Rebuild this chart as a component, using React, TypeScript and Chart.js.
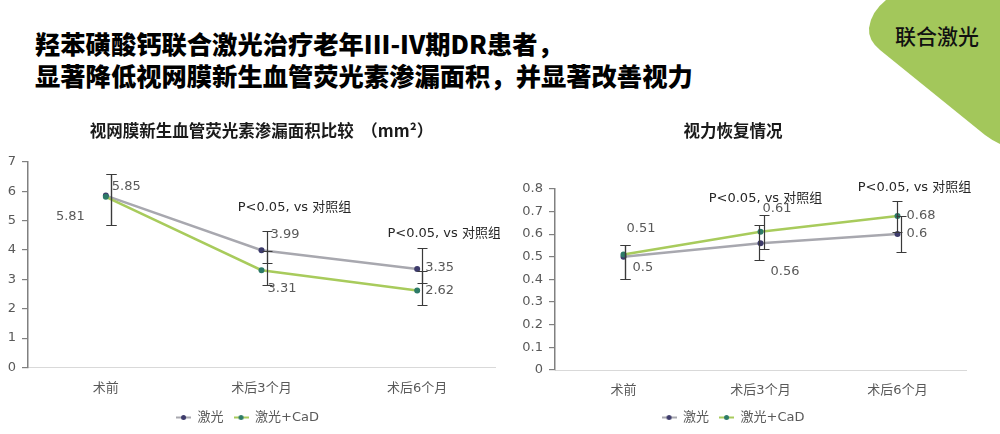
import React, { useEffect, useRef } from 'react';
import { Chart, registerables } from 'chart.js';

Chart.register(...registerables);

// ---------- data ----------
const categories = ['术前', '术后3个月', '术后6个月'];
const seriesNames = ['激光', '激光+CaD'];

// chart 1: leakage area (mm²)
const laserArea = [5.85, 3.99, 3.35];
const cadArea = [5.81, 3.31, 2.62];
const laserAreaLow = [4.86, 3.54, 2.88];
const laserAreaHigh = [6.6, 4.66, 4.07];
const cadAreaLow = [4.86, 2.8, 2.12];
const cadAreaHigh = [6.6, 3.96, 3.3];
const areaAxis = [0, 7, 1]; // min, max, step

// chart 2: visual acuity
const laserVA = [0.5, 0.56, 0.6];
const cadVA = [0.51, 0.61, 0.68];
const laserVALow = [0.4, 0.484, 0.52];
const laserVAHigh = [0.553, 0.638, 0.68];
const cadVALow = [0.4, 0.534, 0.61];
const cadVAHigh = [0.553, 0.686, 0.748];
const vaAxis = [0, 0.8, 0.1];

const pNoteText = 'P<0.05, vs 对照组';
const pNoteIndices = [1, 2];

const titleLine1 = '羟苯磺酸钙联合激光治疗老年III-IV期DR患者，';
const titleLine2 = '显著降低视网膜新生血管荧光素渗漏面积，并显著改善视力';
const badgeText = '联合激光';
const chart1Title = '视网膜新生血管荧光素渗漏面积比较  （mm²）';
const chart2Title = '视力恢复情况';

// ---------- styles ----------
const GRAY_LINE = '#a8a8af';
const GRAY_PT = '#3d3b6b';
const GREEN_LINE = '#a8cb5c';
const GREEN_PT = '#2d7a68';
const TEXT_GRAY = '#595959';
const FONT = "'DejaVu Sans', 'Noto Sans CJK SC', sans-serif";
const CJK = "'Noto Sans CJK SC', sans-serif";

function legendSwatch(line: string, dot: string) {
  const c = document.createElement('canvas');
  c.width = 15;
  c.height = 7;
  const g = c.getContext('2d')!;
  g.strokeStyle = line;
  g.lineWidth = 2;
  g.beginPath();
  g.moveTo(0, 3.5);
  g.lineTo(15, 3.5);
  g.stroke();
  g.fillStyle = dot;
  g.beginPath();
  g.arc(7.5, 3.5, 2.5, 0, Math.PI * 2);
  g.fill();
  return c;
}

const errLabelPlugin = {
  id: 'errLabels',
  afterDatasetsDraw(chart: any, _args: any, opts: any) {
    const { ctx } = chart;
    const xs = chart.scales.x;
    const ys = chart.scales.y;
    ctx.save();
    // error bars
    ctx.strokeStyle = '#3a3a3a';
    ctx.lineWidth = 1.2;
    chart.data.datasets.forEach((ds: any, di: number) => {
      ds.data.forEach((_v: number, j: number) => {
        const x = Math.round(xs.getPixelForValue(j) + opts.barShift[di][j]) + 0.5;
        const yl = Math.round(ys.getPixelForValue(ds.errLow[j])) + 0.5;
        const yh = Math.round(ys.getPixelForValue(ds.errHigh[j])) + 0.5;
        const cap = 5;
        ctx.beginPath();
        ctx.moveTo(x, yl);
        ctx.lineTo(x, yh);
        ctx.moveTo(x - cap, yl);
        ctx.lineTo(x + cap, yl);
        ctx.moveTo(x - cap, yh);
        ctx.lineTo(x + cap, yh);
        ctx.stroke();
      });
    });
    // value labels
    ctx.font = `13px ${FONT}`;
    ctx.fillStyle = TEXT_GRAY;
    ctx.textBaseline = 'middle';
    chart.data.datasets.forEach((ds: any, di: number) => {
      ds.data.forEach((v: number, j: number) => {
        const o = opts.labels[di][j];
        const x = xs.getPixelForValue(j) + o[0];
        const y = ys.getPixelForValue(v) + o[1];
        ctx.textAlign = o[2] || 'left';
        ctx.fillText(String(v), x, y);
      });
    });
    // significance notes
    ctx.fillStyle = '#262626';
    ctx.textAlign = 'center';
    pNoteIndices.forEach((idx, k) => {
      const o = opts.notes[k];
      let top = Infinity;
      chart.data.datasets.forEach((ds: any) => {
        top = Math.min(top, ys.getPixelForValue(ds.errHigh[idx]));
      });
      ctx.fillText(pNoteText, xs.getPixelForValue(idx) + o[0], top + o[1]);
    });
    ctx.restore();
  },
};

function buildConfig(p: any) {
  const swatches = [legendSwatch(GRAY_LINE, GRAY_PT), legendSwatch(GREEN_LINE, GREEN_PT)];
  return {
    type: 'line',
    data: {
      labels: categories,
      datasets: [
        {
          label: seriesNames[0],
          data: p.laser,
          errLow: p.laserLow,
          errHigh: p.laserHigh,
          borderColor: GRAY_LINE,
          backgroundColor: GRAY_PT,
          pointBackgroundColor: GRAY_PT,
          pointBorderColor: GRAY_PT,
          borderWidth: 2.5,
          pointRadius: 3,
          pointBorderWidth: 0,
          tension: 0,
          order: 1,
        },
        {
          label: seriesNames[1],
          data: p.cad,
          errLow: p.cadLow,
          errHigh: p.cadHigh,
          borderColor: GREEN_LINE,
          backgroundColor: GREEN_PT,
          pointBackgroundColor: GREEN_PT,
          pointBorderColor: GREEN_PT,
          borderWidth: 2.5,
          pointRadius: 3,
          pointBorderWidth: 0,
          tension: 0,
          order: 0,
        },
      ],
    },
    options: {
      animation: false,
      responsive: false,
      maintainAspectRatio: false,
      layout: { padding: { left: 0, right: p.padRight, top: 0, bottom: 0 } },
      plugins: {
        title: {
          display: true,
          text: p.title,
          fullSize: p.titleFull,
          color: '#1a1a1a',
          font: { family: CJK, size: 16.5, weight: 'bold', lineHeight: 1.2 },
          padding: { top: 11, bottom: p.titleBottom },
        },
        legend: {
          position: 'bottom',
          labels: {
            usePointStyle: true,
            pointStyleWidth: 15,
            padding: 10,
            color: TEXT_GRAY,
            font: { family: FONT, size: 13 },
            sort: (a: any, b: any) => a.datasetIndex - b.datasetIndex,
            generateLabels: (chart: any) => {
              const items = Chart.defaults.plugins.legend.labels.generateLabels(chart);
              items.forEach((it: any) => {
                it.pointStyle = swatches[it.datasetIndex];
              });
              return items;
            },
          },
        },
        tooltip: { enabled: false },
        errLabels: { barShift: p.barShift, labels: p.labels, notes: p.notes },
      },
      scales: {
        x: {
          offset: true,
          grid: { display: false, drawTicks: false },
          border: { color: '#d9d9d9', width: 1 },
          ticks: { padding: 13, color: TEXT_GRAY, font: { family: FONT, size: 13 } },
          afterFit: (s: any) => {
            s.height = p.xHeight;
          },
        },
        y: {
          min: p.axis[0],
          max: p.axis[1],
          ticks: { stepSize: p.axis[2], padding: 6, color: TEXT_GRAY, font: { family: FONT, size: 13 } },
          grid: { drawOnChartArea: false, tickLength: 6, color: '#808080', lineWidth: 1.2 },
          border: { color: '#808080', width: 1.5 },
          afterFit: (s: any) => {
            s.width = p.yWidth;
          },
        },
      },
    },
    plugins: [errLabelPlugin],
  };
}

function ChartCanvas({ cfg, left, top, width, height }: any) {
  const ref = useRef<HTMLCanvasElement>(null);
  useEffect(() => {
    const chart = new Chart(ref.current as HTMLCanvasElement, buildConfig(cfg) as any);
    return () => chart.destroy();
  }, []);
  return (
    <canvas
      ref={ref}
      width={width}
      height={height}
      style={{ position: 'absolute', left, top, width, height }}
    />
  );
}

const leftCfg = {
  laser: laserArea,
  cad: cadArea,
  laserLow: laserAreaLow,
  laserHigh: laserAreaHigh,
  cadLow: cadAreaLow,
  cadHigh: cadAreaHigh,
  axis: areaAxis,
  title: chart1Title,
  titleFull: false,
  titleBottom: 21,
  padRight: 5,
  yWidth: 28,
  xHeight: 33.5,
  barShift: [
    [5, 5, 5],
    [5, 5, 5],
  ],
  labels: [
    [
      [6, -9, 'left'],
      [9, -16, 'left'],
      [8, -1, 'left'],
    ],
    [
      [-21, 20, 'right'],
      [6, 18, 'left'],
      [8, 0, 'left'],
    ],
  ],
  notes: [
    [33, -23],
    [27, -14],
  ],
};

const rightCfg = {
  laser: laserVA,
  cad: cadVA,
  laserLow: laserVALow,
  laserHigh: laserVAHigh,
  cadLow: cadVALow,
  cadHigh: cadVAHigh,
  axis: vaAxis,
  title: chart2Title,
  titleFull: true,
  titleBottom: 48,
  padRight: 34,
  yWidth: 55,
  xHeight: 31,
  barShift: [
    [1, -2, 3],
    [1, 3, -1],
  ],
  labels: [
    [
      [9, 11, 'left'],
      [10, 28, 'left'],
      [9, 0, 'left'],
    ],
    [
      [3, -26, 'left'],
      [2, -23, 'left'],
      [9, 0, 'left'],
    ],
  ],
  notes: [
    [5, -16],
    [17, -13],
  ],
};

export default function App() {
  return (
    <div
      style={{
        position: 'fixed',
        left: 0,
        top: 0,
        width: 1000,
        height: 434,
        background: '#ffffff',
        overflow: 'hidden',
      }}
    >
      <svg width={1000} height={434} style={{ position: 'absolute', left: 0, top: 0 }}>
        <path
          d="M 886 0 L 1000 0 L 1000 144 Q 993 141 985 135 L 880 50 Q 868 40 869 28 Q 871 12 886 0 Z"
          fill="#a3c75b"
        />
      </svg>
      <div
        style={{
          position: 'absolute',
          left: 895,
          top: 21,
          fontFamily: CJK,
          fontSize: 21,
          fontWeight: 500,
          lineHeight: '28px',
          color: '#111',
          whiteSpace: 'nowrap',
        }}
      >
        {badgeText}
      </div>
      <div
        style={{
          position: 'absolute',
          left: 35,
          top: 27,
          fontFamily: CJK,
          fontSize: 25.3,
          fontWeight: 900,
          lineHeight: '32px',
          color: '#000',
          whiteSpace: 'nowrap',
        }}
      >
        <div>{titleLine1}</div>
        <div>{titleLine2}</div>
      </div>
      <ChartCanvas cfg={leftCfg} left={0} top={110} width={500} height={324} />
      <ChartCanvas cfg={rightCfg} left={500} top={110} width={500} height={324} />
    </div>
  );
}
